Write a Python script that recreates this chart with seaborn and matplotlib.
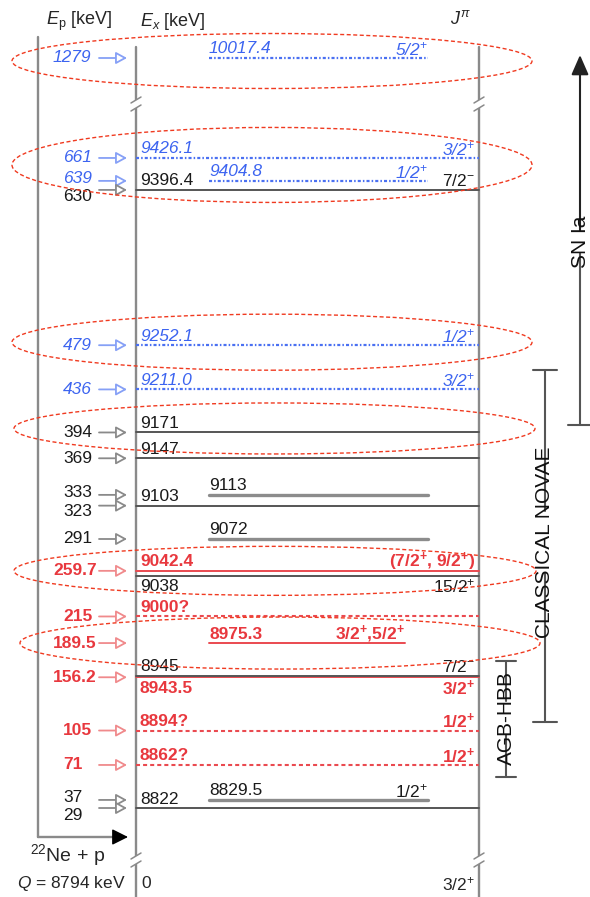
import re
import matplotlib
matplotlib.use("Agg")
import matplotlib.pyplot as plt
from matplotlib.patches import Ellipse, Rectangle
import pandas as pd
import seaborn as sns

# ---------------------------------------------------------------------------
# 22Ne(p,gamma)23Na: 23Na levels above the proton threshold
# ---------------------------------------------------------------------------
Q_VALUE = 8794  # keV

ex_values = [10017.4, 9426.1, 9404.8, 9396.4, 9252.1, 9211.0, 9171, 9147,
             9113, 9103, 9072, 9042.4, 9038, 9000, 8975.3, 8945, 8943.5,
             8894, 8862, 8829.5, 8822]
ex_labels = ["10017.4", "9426.1", "9404.8", "9396.4", "9252.1", "9211.0",
             "9171", "9147", "9113", "9103", "9072", "9042.4", "9038",
             "9000?", "8975.3", "8945", "8943.5", "8894?", "8862?",
             "8829.5", "8822"]
jpi_labels = ["5/2+", "3/2+", "1/2+", "7/2-", "1/2+", "3/2+", "", "", "",
              "", "", "(7/2+, 9/2+)", "15/2+", "", "3/2+,5/2+", "7/2-",
              "3/2+", "1/2+", "1/2+", "1/2+", ""]
level_group = ["high", "high", "high", "other", "high", "high", "other",
               "other", "other", "other", "other", "measured", "other",
               "tentative", "measured", "other", "measured", "tentative",
               "tentative", "other", "other"]

# proton beam energies of the resonances
ep_values = [1279, 661, 639, 630, 479, 436, 394, 369, 333, 323, 291, 259.7,
             215, 189.5, 156.2, 105, 71, 37, 29]
ep_labels = ["1279", "661", "639", "630", "479", "436", "394", "369", "333",
             "323", "291", "259.7", "215", "189.5", "156.2", "105", "71",
             "37", "29"]

# 23Na ground state
ground_ex = 0
ground_jpi = "3/2+"

# excitation-energy windows probed by each astrophysical site
site_names = ["SN Ia", "CLASSICAL NOVAE", "AGB-HBB"]
site_ex_low = [9178, 8902, 8851]
site_ex_high = [None, 9229, 8959]

# resonances circled in the scheme
highlight_groups = [(10017.4,), (9426.1, 9404.8, 9396.4), (9252.1,),
                    (9171,), (9042.4,), (8975.3,)]

# ---------------------------------------------------------------------------
# layout
# ---------------------------------------------------------------------------
W, H = 590, 897
Y_TOP, Y_BOTTOM = 9572.9, 8739.3          # energy range of the canvas
KEV_PER_PX = (Y_TOP - Y_BOTTOM) / H
UPPER_BREAK, UPPER_SHIFT = 9500, 498.4    # levels above the axis break
LOWER_BREAK, LOWER_SHIFT = 8000, 8751.4   # ground state below the break

X_EP, X_EX, X_J = 38, 136, 479
SHORT_START = 209
SHORT_END = {10017.4: 428, 9404.8: 428, 9113: 428, 9072: 428,
             8975.3: 405, 8829.5: 428}
BELOW = {9038, 8943.5}
EP_LABEL_DY = {"639": -2, "630": 7, "333": -2, "323": 6, "37": -2, "29": 7}
ELLIPSE_GEOM = [(3, 12, 532, 55), (-9, 12, 532, 75), (-3, 12, 532, 56),
                (-4, 14, 535, 51), (0, 14, 536, 49), (0, 20, 540, 52)]
SITE_X = [580, 545, 506]
SITE_TEXT_ROW = [242, 542, 718]

BLUE, RED, BLACK = "#3c64f0", "#e8383e", "#1a1a1a"
GROUP_STYLE = {
    "high": dict(text=BLUE, line="#4a70f2", arrow="#86a0f6", style="italic",
                 weight="normal", ls=(0, (2.2, 1.5, 1.1, 1.5)), lw=1.6),
    "other": dict(text=BLACK, line="#555555", arrow="#8a8a8a", style="normal",
                  weight="normal", ls="-", lw=1.4),
    "measured": dict(text=RED, line="#ea4a50", arrow="#f08a8c", style="normal",
                     weight="bold", ls="-", lw=1.4),
    "tentative": dict(text=RED, line="#ea4a50", arrow="#f08a8c", style="normal",
                      weight="bold", ls=(0, (2.9, 2.2)), lw=1.5),
}


def e_at(py):
    """Energy coordinate of a canvas row (pixels from the top)."""
    return Y_TOP - py * KEV_PER_PX


def y_of(E):
    if E > UPPER_BREAK:
        return E - UPPER_SHIFT
    if E < LOWER_BREAK:
        return E + LOWER_SHIFT
    return E


def jpi_text(s, bold=False):
    def sup(m):
        sign = r"\mathbf{%s}" % m.group(2) if bold else m.group(2)
        return m.group(1) + "$^{" + sign + "}$"
    return re.sub(r"(\d+/2)([+-])", sup, s)


sns.set_theme(style="white")
plt.rcParams["font.family"] = ["Liberation Sans", "DejaVu Sans"]
plt.rcParams["mathtext.fontset"] = "custom"
plt.rcParams["mathtext.rm"] = "Liberation Sans"
plt.rcParams["mathtext.it"] = "Liberation Sans:italic"
plt.rcParams["mathtext.bf"] = "Liberation Sans:bold"
plt.rcParams["lines.scale_dashes"] = False

FS = 12.5
fig = plt.figure(figsize=(W / 100, H / 100), dpi=100)
fig.patch.set_facecolor("white")
ax = fig.add_axes([0, 0, 1, 1])

# ---- level lines (seaborn, one line per level) ----------------------------
rows = []
for E, g in zip(ex_values, level_group):
    short = E in SHORT_END
    x0, x1 = (SHORT_START, SHORT_END[E]) if short else (X_EX, X_J)
    for x in (x0, x1):
        rows.append(dict(level=E, group=g, short=short, x=x, y=y_of(E)))
levels = pd.DataFrame(rows)

for (g, short), sub in levels.groupby(["group", "short"]):
    st = GROUP_STYLE[g]
    color, lw = st["line"], st["lw"]
    if g == "other" and short:
        color, lw = "#8c8c8c", 2.4
    sns.lineplot(data=sub, x="x", y="y", units="level", estimator=None,
                 sort=False, ax=ax, legend=False, color=color, linewidth=lw,
                 linestyle=st["ls"], zorder=3)

# ---- vertical axes of the scheme ------------------------------------------
AX_COL = "#8a8a8a"
ax.plot([X_EP, X_EP], [e_at(37), e_at(837)], color=AX_COL, lw=1.7, zorder=2)
ax.plot([X_EP, 118], [e_at(837), e_at(837)], color=AX_COL, lw=1.7, zorder=2)
ax.annotate("", xy=(128, e_at(837)), xytext=(116, e_at(837)),
            arrowprops=dict(arrowstyle="-|>,head_length=0.7,head_width=0.35",
                            color="black", lw=1, mutation_scale=14,
                            shrinkA=0, shrinkB=0))
for x in (X_EX, X_J):
    ax.plot([x, x], [e_at(47), e_at(H + 5)], color=AX_COL, lw=1.7, zorder=2)


def axis_break(x, py):
    ax.add_patch(Rectangle((x - 6, e_at(py + 4)), 12, 8 * KEV_PER_PX,
                           facecolor="white", edgecolor="none", zorder=4))
    for s in (-4, 4):
        ax.plot([x - 5, x + 5], [e_at(py + s + 3), e_at(py + s - 3)],
                color=AX_COL, lw=1.1, zorder=5)


for x in (X_EX, X_J):
    axis_break(x, 104)
    axis_break(x, 860)

# ---- level labels ----------------------------------------------------------
for E, lab, jp, g in zip(ex_values, ex_labels, jpi_labels, level_group):
    st = GROUP_STYLE[g]
    short = E in SHORT_END
    dy = -11 if E in BELOW else 9
    y = y_of(E) + dy * KEV_PER_PX
    kw = dict(color=st["text"], fontstyle=st["style"], fontweight=st["weight"],
              fontsize=FS, va="center", zorder=6)
    ax.text(SHORT_START if short else X_EX + 4, y, lab, ha="left", **kw)
    if jp:
        xr = SHORT_END[E] if short else 475
        ax.text(xr, y, jpi_text(jp, st["weight"] == "bold"), ha="right", **kw)

# ---- resonance energies with arrows ---------------------------------------
for ep, lab in zip(ep_values, ep_labels):
    ex_calc = Q_VALUE + ep * 22 / 23
    i = min(range(len(ex_values)), key=lambda k: abs(ex_values[k] - ex_calc))
    st = GROUP_STYLE[level_group[i]]
    y = y_of(ex_values[i])
    ax.annotate("", xy=(127, y), xytext=(99, y),
                arrowprops=dict(arrowstyle="-|>,head_length=0.55,head_width=0.3",
                                fc="white", ec=st["arrow"], lw=1.3,
                                mutation_scale=12, shrinkA=0, shrinkB=0),
                zorder=5)
    ax.text(63 if len(lab) <= 3 else 53,
            y - EP_LABEL_DY.get(lab, 0) * KEV_PER_PX, lab,
            color=st["text"], fontstyle=st["style"], fontweight=st["weight"],
            fontsize=FS, ha="left", va="center", zorder=6)

# ---- circled resonances ----------------------------------------------------
for grp, (dy, xl, xr, hp) in zip(highlight_groups, ELLIPSE_GEOM):
    ys = [y_of(E) for E in grp]
    yc = (max(ys) + min(ys)) / 2 - dy * KEV_PER_PX
    ax.add_patch(Ellipse(((xl + xr) / 2, yc), xr - xl, hp * KEV_PER_PX,
                         fill=False, edgecolor="#f03a20", lw=1.0,
                         linestyle=(0, (2.9, 1.8)), zorder=7))

# ---- headers and footer ----------------------------------------------------
ax.text(46, e_at(21), r"$E_{\rm p}$ [keV]", fontsize=FS + 0.5, ha="left",
        va="center")
ax.text(140, e_at(21), r"$E_{x}$ [keV]", fontsize=FS + 0.5, ha="left",
        va="center")
ax.text(450, e_at(19), r"$J^{\pi}$", fontsize=FS + 0.5, ha="left", va="center")
ax.text(30, e_at(855), r"$^{22}$Ne + p", fontsize=FS + 1.5, ha="left",
        va="center")
ax.text(17, e_at(883), r"$Q$ = %d keV" % Q_VALUE, fontsize=FS, ha="left",
        va="center")
ax.text(X_EX + 5, y_of(ground_ex), "%d" % ground_ex, fontsize=FS, ha="left",
        va="center")
ax.text(475, y_of(ground_ex), jpi_text(ground_jpi), fontsize=FS, ha="right",
        va="center")

# ---- astrophysical sites ---------------------------------------------------
SITE_COL = "#555555"
renderer = fig.canvas.get_renderer()
inv = ax.transData.inverted()
for name, lo, hi, x, row in zip(site_names, site_ex_low, site_ex_high, SITE_X,
                                SITE_TEXT_ROW):
    t = ax.text(x, e_at(row), name, rotation=90, fontsize=15, ha="center",
                va="center", color="#111111", zorder=6)
    bb = t.get_window_extent(renderer=renderer)
    t_lo = inv.transform((0, bb.y0))[1]
    t_hi = inv.transform((0, bb.y1))[1]
    gap = 4 * KEV_PER_PX
    cap = 12 if name != "AGB-HBB" else 10
    ylo = y_of(lo)
    ax.plot([x - cap, x + cap], [ylo, ylo], color=SITE_COL, lw=1.5)
    if t_lo - gap > ylo:
        ax.plot([x, x], [ylo, t_lo - gap], color=SITE_COL, lw=1.5)
    if hi is None:
        ax.annotate("", xy=(x, e_at(55)), xytext=(x, t_hi + gap),
                    arrowprops=dict(arrowstyle="-|>,head_length=0.8,head_width=0.35",
                                    color="#222222", lw=1.5, mutation_scale=15,
                                    shrinkA=0, shrinkB=0))
    else:
        yhi = y_of(hi)
        ax.plot([x - cap, x + cap], [yhi, yhi], color=SITE_COL, lw=1.5)
        if yhi > t_hi + gap:
            ax.plot([x, x], [t_hi + gap, yhi], color=SITE_COL, lw=1.5)

ax.set_xlim(0, W)
ax.set_ylim(Y_BOTTOM, Y_TOP)
ax.axis("off")
fig.savefig("out.png", dpi=100, facecolor="white")
